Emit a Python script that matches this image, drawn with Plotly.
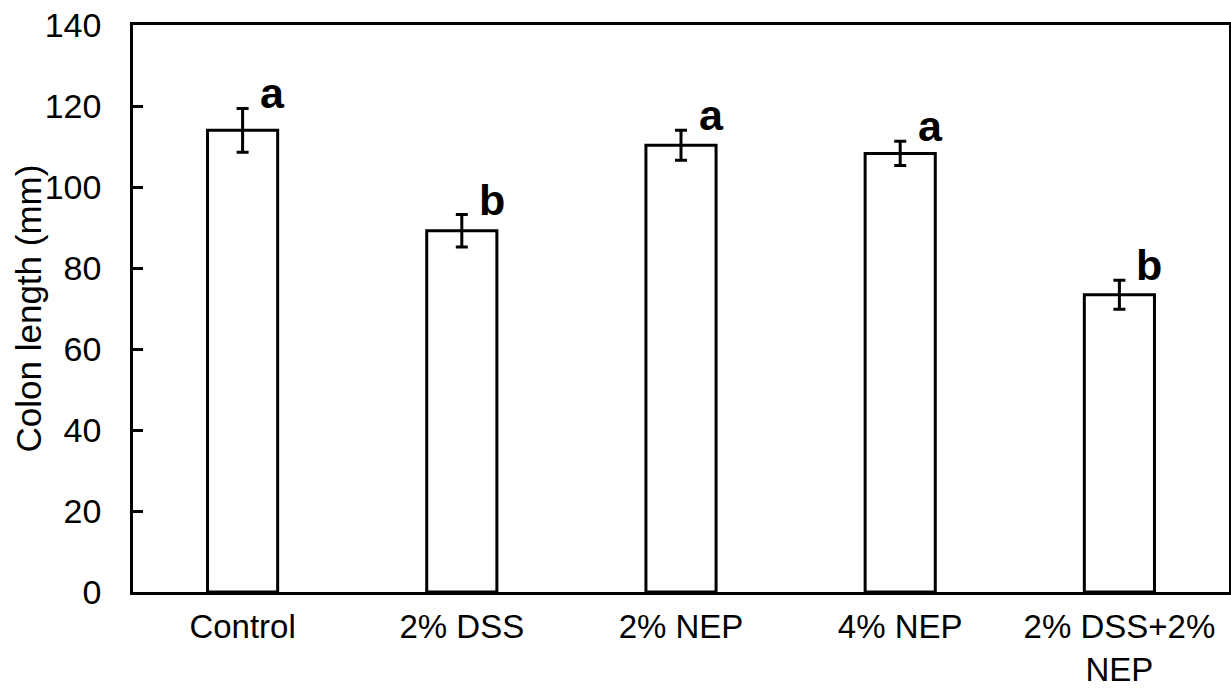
import plotly.graph_objects as go

categories = ["Control", "2% DSS", "2% NEP", "4% NEP", "2% DSS+2%<br>NEP"]
means = [114.0, 89.2, 110.3, 108.3, 73.4]
errors = [5.4, 4.0, 3.7, 3.0, 3.6]
letters = ["a", "b", "a", "a", "b"]
y_ticks = [0, 20, 40, 60, 80, 100, 120, 140]
y_title = "Colon length (mm)"

FONT = "Liberation Sans, Arial, sans-serif"

fig = go.Figure()
fig.add_trace(go.Bar(
    x=categories,
    y=means,
    width=0.32,
    marker=dict(color="white", line=dict(color="black", width=3)),
    error_y=dict(type="data", array=errors, visible=True,
                 color="black", thickness=3, width=6),
    showlegend=False,
))

for c, m, e, l in zip(categories, means, errors, letters):
    fig.add_annotation(
        x=c, y=m + e, text=f"<b>{l}</b>", showarrow=False,
        xanchor="center", yanchor="bottom", xshift=30, yshift=-11,
        font=dict(family=FONT, size=43, color="black"),
    )

fig.add_annotation(
    xref="paper", yref="paper", x=0, y=0.5, xshift=-105,
    text=y_title, textangle=-90, showarrow=False,
    xanchor="center", yanchor="middle",
    font=dict(family=FONT, size=35, color="black"),
)

fig.update_layout(
    width=1231, height=688,
    margin=dict(l=133, r=2, t=25, b=96),
    plot_bgcolor="white", paper_bgcolor="white",
    font=dict(family=FONT, size=34, color="black"),
    bargap=0.68,
)
fig.update_xaxes(
    showline=True, linecolor="black", linewidth=2.5, mirror=True,
    ticks="", showgrid=False, tickfont=dict(size=33),
    ticklabelstandoff=4, automargin=False,
)
fig.update_yaxes(
    range=[0, 140], tickvals=y_ticks, ticktext=[str(v) for v in y_ticks],
    showline=True, linecolor="black", linewidth=2.5, mirror=True,
    ticks="inside", ticklen=10, tickwidth=2.5, tickcolor="black",
    showgrid=False, zeroline=False, automargin=False,
    ticklabelstandoff=22,
)

fig.write_html("out.html")
